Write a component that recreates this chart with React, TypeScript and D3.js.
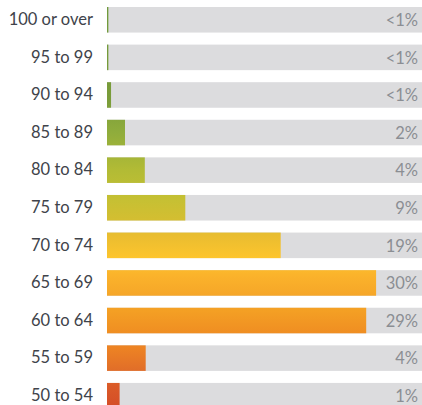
import React from "react";
import * as d3 from "d3";

const categories = ["100 or over", "95 to 99", "90 to 94", "85 to 89", "80 to 84", "75 to 79", "70 to 74", "65 to 69", "60 to 64", "55 to 59", "50 to 54"];
const values = [0.15, 0.15, 0.45, 2.0, 4.2, 8.7, 19.3, 29.9, 28.8, 4.3, 1.4];
const valueLabels = ["<1%", "<1%", "<1%", "2%", "4%", "9%", "19%", "30%", "29%", "4%", "1%"];

const gradientStops: [number, string][] = [
  [0, "#6f9a3c"],
  [100, "#7a9c3a"],
  [132, "#8fac3c"],
  [170, "#b2bb35"],
  [200, "#c6c033"],
  [220, "#d4be31"],
  [236, "#eabd30"],
  [258, "#fdc52d"],
  [275, "#fbb32b"],
  [297, "#f5a528"],
  [310, "#f4a024"],
  [334, "#ef8d22"],
  [350, "#ec8124"],
  [372, "#e06c29"],
  [386, "#da5a28"],
  [408, "#d54e27"],
];

const W = 422;
const H = 405;

export default function App() {
  const x = d3.scaleLinear().domain([0, 35]).range([107, 422]);
  const y = d3.scaleBand<string>().domain(categories).range([7, 408.5]).paddingInner(0.32);
  const bw = y.bandwidth();
  const font = "Lato, sans-serif";
  return (
    <svg width={W} height={H} style={{ position: "absolute", left: 0, top: 0 }}>
      <defs>
        <linearGradient id="barGrad" gradientUnits="userSpaceOnUse" x1={0} y1={0} x2={0} y2={H}>
          {gradientStops.map(([o, c], i) => (
            <stop key={i} offset={o / H} stopColor={c} />
          ))}
        </linearGradient>
      </defs>
      {categories.map((c, i) => {
        const top = y(c)!;
        return (
          <g key={c}>
            <rect x={x(0)} y={top} width={x(35) - x(0)} height={bw} fill="#dcdcde" />
            <rect x={x(0)} y={top} width={x(values[i]) - x(0)} height={bw} fill="url(#barGrad)" />
            <text x={93} y={top + 18} textAnchor="end" fontFamily={font} fontSize={16.5} fill="#40434a">
              {c}
            </text>
            <text x={418} y={top + 19} textAnchor="end" fontFamily={font} fontSize={16.5} fill="#8b8e93">
              {valueLabels[i]}
            </text>
          </g>
        );
      })}
    </svg>
  );
}
